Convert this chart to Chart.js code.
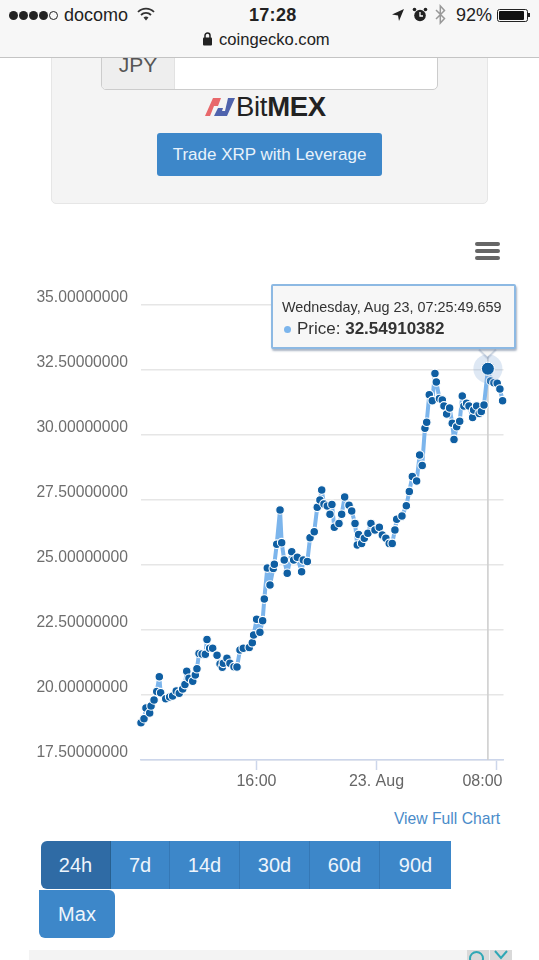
<!DOCTYPE html>
<html><head><meta charset="utf-8"><title>XRP price chart</title>
<script src="https://cdn.jsdelivr.net/npm/chart.js@4"></script>
<style>
html,body{margin:0;padding:0;background:#fff;width:539px;height:960px;overflow:hidden;font-family:"Liberation Sans",Arial,sans-serif}
.a{position:absolute;white-space:nowrap}
#status{position:absolute;left:0;top:0;width:539px;height:57px;background:#f7f7f7;border-bottom:1px solid #c4c4c4;z-index:5;color:#222}
.dot{position:absolute;top:11px;width:9px;height:9px;border-radius:50%;background:#222}
#panel{position:absolute;left:51px;top:40px;width:435px;height:162px;background:#f4f4f4;border:1.5px solid #e6e6e6;border-radius:5px}
#group{position:absolute;left:101px;top:40px;width:335px;height:48px;background:#fff;border:1px solid #ccc;border-radius:5px;overflow:hidden}
#jpy{position:absolute;left:0;top:0;width:72px;height:48px;background:#eee;border-right:1px solid #e2e2e2;color:#555;font-size:21px;line-height:48px;text-align:center}
#trade{position:absolute;left:157px;top:133px;width:225px;height:43px;background:#3d87c9;border-radius:3px;color:#e8f2fb;font-size:17px;line-height:43px;text-align:center}
#logoText{position:absolute;left:236px;top:92px;font-size:27.5px;line-height:30px;color:#222;letter-spacing:-.3px}
#chartBox{position:absolute;left:0;top:280px;width:539px;height:520px}
.bar{position:absolute;left:475px;width:25px;height:4px;border-radius:2px;background:#666}
#tip{position:absolute;left:271px;top:284px;width:241px;height:61px;background:#f7f7f7;border:2px solid #8db9e3;border-radius:2px;box-shadow:1px 2px 2px rgba(90,110,140,.5);z-index:3;color:#333}
#caret{position:absolute;left:481px;top:341px;width:13px;height:13px;background:#f7f7f7;transform:rotate(45deg);box-shadow:2px 2px 1px rgba(130,150,180,.4);z-index:2}
#cover{position:absolute;left:474px;top:338px;width:28px;height:8.5px;background:#f7f7f7;z-index:4}
#link{position:absolute;right:39px;top:810px;color:#4a8bc9;font-size:15.7px;line-height:18px}
.btn{position:absolute;top:841px;height:48px;background:#3d87c9;color:#eef5fc;font-size:20px;line-height:48px;text-align:center;border-right:1px solid #3578b6;box-sizing:border-box}
#adbar{position:absolute;left:29px;top:950px;width:483px;height:10px;background:#f3f3f3}
</style></head>
<body>
<div id="panel"></div>
<div id="group"><div id="jpy">JPY</div></div>
<svg class="a" style="left:205px;top:98px" width="30" height="18" viewBox="0 0 30 18">
<path d="M8 0 H16 L13 8 H9 L5 18 H0 Z" fill="#e8686b"/>
<path d="M23 0 H30 L22 18 H9 L13 10 H18 L17 13 H20 Z" fill="#4f63ad"/>
</svg>
<div id="logoText">Bit<b>MEX</b></div>
<div id="trade">Trade XRP with Leverage</div>

<div id="status">
 <span class="dot" style="left:9px"></span><span class="dot" style="left:19px"></span><span class="dot" style="left:29px"></span><span class="dot" style="left:39px"></span>
 <span class="dot" style="left:49px;background:none;border:1px solid #222;box-sizing:border-box"></span>
 <span class="a" style="left:64px;top:5px;font-size:18px;line-height:21px">docomo</span>
 <svg class="a" style="left:137px;top:7px" width="18" height="15" viewBox="0 0 18 15"><path d="M1 5 A11 11 0 0 1 17 5" fill="none" stroke="#333" stroke-width="1.8"/><path d="M4 8 A7 7 0 0 1 14 8" fill="none" stroke="#333" stroke-width="1.8"/><path d="M6.5 10.5 L9 13.5 L11.5 10.5 A4 4 0 0 0 6.5 10.5 Z" fill="#333"/></svg>
 <span class="a" style="left:249px;top:5px;font-size:18px;line-height:21px;font-weight:bold;letter-spacing:.3px">17:28</span>
 <svg class="a" style="left:391px;top:8px" width="14" height="14" viewBox="0 0 14 14"><path d="M13 1 L1 6.5 L7 7.5 L8 13 Z" fill="#222"/></svg>
 <svg class="a" style="left:412px;top:7px" width="16" height="15" viewBox="0 0 16 15"><circle cx="8" cy="8.5" r="5.8" fill="#222"/><path d="M8 5 V9 H11" stroke="#fff" stroke-width="1.3" fill="none"/><circle cx="2.5" cy="2.5" r="1.8" fill="#222"/><circle cx="13.5" cy="2.5" r="1.8" fill="#222"/></svg>
 <svg class="a" style="left:435px;top:4px" width="11" height="21" viewBox="0 0 11 21"><path d="M1 6 L9.5 14.5 L5.3 19 V2 L9.5 6.5 L1 15" fill="none" stroke="#999" stroke-width="1.5"/></svg>
 <span class="a" style="left:456px;top:5px;font-size:18px;line-height:21px">92%</span>
 <div class="a" style="left:497px;top:9px;width:29px;height:11px;border:1px solid #222;border-radius:2.5px"><div style="margin:1px;width:25px;height:9px;background:#111;border-radius:1px"></div></div>
 <div class="a" style="left:528px;top:13px;width:2px;height:4px;background:#222"></div>
 <svg class="a" style="left:203px;top:32px" width="9" height="14" viewBox="0 0 9 14"><rect x="0" y="5.5" width="9" height="8" rx="1" fill="#222"/><path d="M2 6 V3.5 A2.5 2.5 0 0 1 7 3.5 V6" fill="none" stroke="#222" stroke-width="1.5"/></svg>
 <span class="a" style="left:219px;top:30px;font-size:16.6px;line-height:20px">coingecko.com</span>
</div>

<div class="bar" style="top:241.5px"></div><div class="bar" style="top:248.5px"></div><div class="bar" style="top:255.5px"></div>

<div id="chartBox"><canvas id="c" width="539" height="520"></canvas></div>

<div id="caret"></div><div id="cover"></div>
<div id="tip">
 <span class="a" id="tipTitle" style="left:9px;top:13px;font-size:14.4px;line-height:17px"></span>
 <span class="a" style="left:10.5px;top:40px;width:7px;height:7px;border-radius:50%;background:#7cb5ec"></span>
 <span class="a" style="left:24px;top:33px;font-size:17px;line-height:20px"><span id="tipName"></span>: <b id="tipValue"></b></span>
</div>

<div id="link">View Full Chart</div>
<div class="btn" style="left:41px;width:70px;background:#2f6ba5;border-radius:6px 0 0 6px;border-right:1px solid #28608f">24h</div>
<div class="btn" style="left:111px;width:59px">7d</div>
<div class="btn" style="left:170px;width:70px">14d</div>
<div class="btn" style="left:240px;width:70px">30d</div>
<div class="btn" style="left:310px;width:70px">60d</div>
<div class="btn" style="left:380px;width:71px;border-right:none">90d</div>
<div class="btn" style="left:39px;width:76px;top:890px;border-radius:0 6px 6px 6px;border-right:none">Max</div>
<div id="adbar"></div>
<div class="a" style="left:467px;top:950px;width:22px;height:10px;background:#d9d9d9;overflow:hidden"><div style="position:absolute;left:2px;top:1px;width:15px;height:15px;border:2px solid #2fa7b5;border-radius:50%;box-sizing:border-box"></div></div>
<div class="a" style="left:490px;top:950px;width:22px;height:10px;background:#d9d9d9;overflow:hidden"><svg width="22" height="10" style="position:absolute;left:0;top:0"><path d="M5 1 L11 8 L17 1" fill="none" stroke="#2fa7b5" stroke-width="2"/></svg></div>

<script>
// hours since 00:00 on Aug 22
const hours = [8.3,8.5,8.63,8.88,8.97,9.17,9.35,9.52,9.61,9.95,10.21,10.41,10.65,10.85,11.08,11.23,11.35,11.5,11.75,11.92,12.03,12.17,12.37,12.59,12.7,12.88,13.08,13.37,13.57,13.72,13.79,14.03,14.23,14.5,14.7,14.9,15.12,15.52,15.72,15.81,16.01,16.23,16.41,16.52,16.72,16.9,17.12,17.19,17.35,17.57,17.68,17.85,18.05,18.35,18.48,18.72,19.01,19.12,19.39,19.57,19.85,20.05,20.23,20.35,20.5,20.72,20.9,21.03,21.19,21.5,21.68,21.88,22.17,22.35,22.57,22.72,22.81,23.01,23.19,23.43,23.63,23.9,24.19,24.39,24.63,24.85,25.05,25.23,25.35,25.7,25.99,26.19,26.39,26.68,26.88,27.05,27.23,27.35,27.52,27.72,27.9,27.99,28.2,28.39,28.5,28.68,28.88,29.05,29.17,29.35,29.55,29.72,29.83,30.01,30.17,30.41,30.48,30.68,30.85,30.99,31.17,31.43,31.61,31.83,32.05,32.23,32.41];
const prices = [18.93,19.09,19.5,19.31,19.58,19.81,20.13,20.7,20.09,19.86,19.92,19.96,20.15,20.07,20.23,20.4,20.91,20.64,20.53,20.77,21.01,21.6,21.58,21.57,22.13,21.8,21.8,21.53,21.19,21.07,21.22,21.41,21.22,21.09,21.08,21.73,21.8,21.83,22.01,22.31,22.91,22.41,22.86,23.69,24.88,24.23,24.87,25.03,25.8,27.12,25.86,25.19,24.68,25.51,25.19,25.3,24.74,25.19,25.13,26.05,26.28,27.22,27.5,27.88,27.35,27.27,26.95,27.33,26.45,26.6,26.95,27.62,27.3,27.08,26.6,25.77,26.17,25.83,26.03,26.22,26.6,26.35,26.45,26.15,26.03,25.83,25.83,26.35,26.76,26.88,27.28,27.83,28.4,28.23,29.23,28.83,30.26,30.49,31.55,31.32,32.37,32.04,31.4,31.35,31.12,30.81,31.04,30.45,29.83,30.32,30.53,31.5,31.12,31.22,31.12,30.67,30.96,31.12,30.83,30.9,31.15,32.54910382,32.08,32.01,31.99,31.77,31.32];
const yTicks = [17.5,20,22.5,25,27.5,30,32.5,35];
const xTickHours = [16,24,32];
const xTickLabels = ["16:00","23. Aug","08:00"];
const seriesName = "Price";
const activeIndex = 121;
const activeTitle = "Wednesday, Aug 23, 07:25:49.659";

document.getElementById('tipTitle').textContent = activeTitle;
document.getElementById('tipName').textContent = seriesName;
document.getElementById('tipValue').textContent = prices[activeIndex].toFixed(8);

const overlay = {
  id:'overlay',
  beforeDraw(chart){
    const items = chart.scales.x.getLabelItems();
    if(!items._shifted && items.length===3){ items[2].options.translation[0]-=14; items._shifted=true; }
  },
  beforeDatasetsDraw(chart){
    const el = chart.getDatasetMeta(0).data[activeIndex], c = chart.ctx, a = chart.chartArea;
    c.save(); c.strokeStyle='#cfcfcf'; c.lineWidth=1.6;
    c.beginPath(); c.moveTo(el.x,a.top); c.lineTo(el.x,a.bottom); c.stroke(); c.restore();
  },
  afterDatasetsDraw(chart){
    const el = chart.getDatasetMeta(0).data[activeIndex], c = chart.ctx;
    c.save(); c.fillStyle='rgba(124,165,210,0.25)';
    c.beginPath(); c.arc(el.x,el.y,14.5,0,Math.PI*2); c.fill(); c.restore();
    el.draw(c,chart.chartArea);
  }
};

const chart = new Chart(document.getElementById('c'),{
  type:'line',
  data:{datasets:[{label:seriesName,
    data:hours.map((h,i)=>({x:h,y:prices[i]})),
    borderColor:'#7cb5ec',borderWidth:4,tension:0,clip:false,borderJoinStyle:'round',borderCapStyle:'round',
    pointRadius:4.3,pointBackgroundColor:'#0f5fa3',pointBorderColor:'#fff',pointBorderWidth:1.1,
    pointHoverRadius:6.5,pointHoverBackgroundColor:'#0f5fa3',pointHoverBorderColor:'#fff',pointHoverBorderWidth:1}]},
  options:{
    responsive:false,animation:false,events:[],
    layout:{padding:{top:25,right:35.5,left:0,bottom:0}},
    plugins:{legend:{display:false},title:{display:false},tooltip:{enabled:false}},
    scales:{
      x:{type:'linear',min:8.3,max:32.47,
        afterBuildTicks(s){s.ticks=xTickHours.map(v=>({value:v}));},
        afterFit(s){s.height=40;},
        border:{color:'#ccd6eb',width:1.5},
        grid:{drawOnChartArea:false,drawTicks:true,tickLength:10,tickColor:'#ccd6eb',tickWidth:1.5},
        ticks:{autoSkip:false,maxRotation:0,padding:2,color:'#666',font:{family:'"Liberation Sans"',size:16},
          callback:(v)=>xTickLabels[xTickHours.indexOf(v)]}},
      y:{type:'linear',min:17.5,max:35,
        afterBuildTicks(s){s.ticks=yTicks.map(v=>({value:v}));},
        afterFit(s){s.width=141;},
        border:{display:false},
        grid:{color:'#e6e6e6',lineWidth:1.5,drawTicks:false},
        ticks:{padding:13,labelOffset:-7,color:'#6e6e6e',font:{family:'"Liberation Sans"',size:15.7},
          callback:(v)=>v.toFixed(8)}}
    }
  },
  plugins:[overlay]
});
chart.setActiveElements([{datasetIndex:0,index:activeIndex}]);
chart.render();
</script>
</body></html>
